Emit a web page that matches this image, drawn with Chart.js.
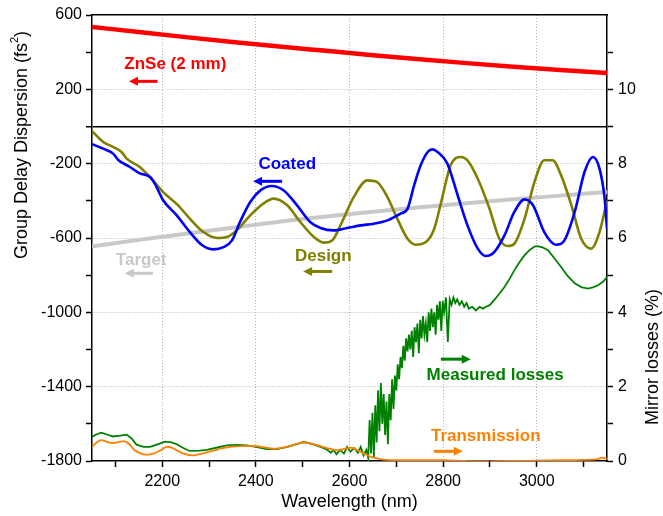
<!DOCTYPE html>
<html><head><meta charset="utf-8">
<script src="https://cdn.jsdelivr.net/npm/chart.js@4"></script>
<style>html,body{margin:0;padding:0;background:#fff}#wrap{width:663px;height:516px;position:relative}canvas{display:block}</style>
</head><body><div id="wrap"><canvas id="c" width="663" height="516" style="width:663px;height:516px"></canvas></div>
<script>
const FONT = "'Liberation Sans', Arial, sans-serif";

// ZnSe (2 mm) GDD, fs^2 (left axis)
const znseWl  = [2050,2150,2250,2350,2450,2550,2650,2750,2850,2950,3050,3150];
const znseGdd = [536,508,481,455,430,407,384,362,341,322,304,288];

// Target GDD, fs^2 (left axis)
const targetWl  = [2050,2150,2250,2350,2450,2550,2650,2750,2850,2950,3050,3150];
const targetGdd = [-645,-610,-577,-545,-512,-484,-459,-435,-413,-392,-372,-352];

// Coated mirror GDD, fs^2 (left axis)
const coatedWl  = [2050,2074,2095,2106,2131,2152,2174,2184,2202,2231,2259,2284,2309,2331,2349,2366,2388,2409,2434,2459,2488,2516,2538,2566,2595,2624,2652,2681,2709,2724,2738,2752,2767,2777,2788,2809,2831,2852,2874,2891,2909,2931,2952,2974,2992,3016,3041,3059,3081,3102,3120,3134,3145,3150];
const coatedGdd = [-95,-119,-146,-180,-218,-252,-272,-307,-397,-478,-568,-636,-661,-649,-613,-514,-406,-345,-320,-343,-424,-514,-546,-559,-546,-532,-523,-505,-469,-442,-317,-209,-137,-123,-137,-200,-370,-532,-657,-697,-676,-586,-460,-392,-424,-568,-636,-613,-460,-245,-164,-227,-388,-550];

// Design GDD, fs^2 (left axis)
const designWl  = [2050,2074,2095,2113,2124,2152,2177,2202,2234,2259,2288,2317,2338,2359,2388,2416,2438,2467,2495,2524,2545,2563,2584,2609,2638,2659,2681,2702,2724,2741,2763,2781,2795,2816,2838,2852,2874,2899,2920,2938,2952,2974,2995,3016,3034,3052,3074,3095,3116,3134,3150];
const designGdd = [-25,-83,-110,-137,-173,-218,-281,-353,-424,-496,-568,-600,-595,-559,-478,-415,-388,-424,-514,-595,-625,-613,-514,-380,-290,-299,-380,-496,-604,-636,-622,-550,-415,-209,-164,-182,-281,-442,-604,-643,-631,-496,-299,-182,-182,-263,-424,-604,-657,-568,-400];

// Measured losses, % (right axis)
const lossWl  = [2050,2060,2070,2085,2095,2110,2124,2135,2145,2160,2174,2190,2206,2220,2231,2245,2259,2280,2295,2320,2338,2360,2381,2400,2424,2445,2467,2485,2502,2520,2538,2550,2560,2566,2572,2580,2588,2595,2602,2610,2618,2624,2630,2636,2640,2643,2646,2649,2652,2655,2658,2661,2664,2667,2670,2673,2676,2679,2682,2685,2688,2691,2694,2697,2700,2703,2706,2709,2712,2715,2718,2721,2724,2727,2730,2733,2736,2739,2742,2745,2748,2751,2754,2757,2760,2763,2766,2769,2772,2775,2778,2781,2784,2787,2790,2793,2796,2799,2802,2806,2810,2814,2818,2822,2826,2830,2835,2840,2845,2850,2855,2862,2870,2878,2885,2892,2900,2909,2920,2931,2942,2952,2963,2974,2985,2995,3002,3012,3024,3038,3052,3066,3081,3095,3109,3120,3131,3142,3150];
const lossPct = [0.65,0.72,0.76,0.70,0.66,0.68,0.71,0.60,0.44,0.38,0.38,0.45,0.52,0.50,0.45,0.35,0.27,0.28,0.30,0.37,0.42,0.43,0.42,0.38,0.32,0.32,0.38,0.45,0.51,0.46,0.38,0.32,0.22,0.30,0.18,0.30,0.20,0.38,0.25,0.35,0.22,0.38,0.15,0.30,0.08,1.10,0.20,1.30,0.10,1.50,0.50,1.90,0.80,2.10,1.00,1.80,0.70,1.60,0.45,1.80,1.10,2.20,1.40,2.30,1.90,2.60,2.20,2.80,2.50,3.10,2.70,3.30,2.95,3.40,3.00,3.50,2.80,3.60,3.20,3.70,2.90,3.80,3.30,3.90,3.40,3.70,3.20,4.00,3.50,4.10,3.60,4.00,3.40,4.20,3.80,4.30,3.50,4.30,4.00,4.40,3.20,4.35,4.20,4.40,4.25,4.35,4.20,4.30,4.15,4.25,4.10,4.15,4.05,4.15,4.10,4.15,4.20,4.33,4.50,4.68,4.90,5.13,5.35,5.54,5.68,5.77,5.78,5.75,5.67,5.45,5.22,4.98,4.78,4.68,4.64,4.67,4.73,4.83,4.95];

// Transmission, % (right axis)
const transWl  = [2050,2060,2070,2085,2095,2110,2120,2130,2141,2155,2166,2180,2195,2209,2220,2231,2245,2266,2285,2309,2335,2366,2402,2438,2467,2485,2502,2520,2538,2556,2574,2590,2602,2615,2631,2645,2663,2680,2720,2800,2850,2900,2950,3000,3050,3100,3130,3140,3150];
const transPct = [0.38,0.50,0.56,0.50,0.48,0.52,0.53,0.45,0.29,0.20,0.17,0.19,0.28,0.38,0.36,0.29,0.20,0.15,0.20,0.28,0.36,0.40,0.40,0.33,0.38,0.45,0.50,0.46,0.40,0.33,0.29,0.33,0.36,0.30,0.20,0.12,0.06,0.03,0.02,0.02,0.00,-0.01,0.00,0.01,0.02,0.03,0.05,0.09,0.06];

// Axis ticks
const xTickVals = [2100,2200,2300,2400,2500,2600,2700,2800,2900,3000,3100];
const xTickLabels = [2200,2400,2600,2800,3000];
const leftTickVals = [-1800,-1600,-1400,-1200,-1000,-800,-600,-400,-200,0,200,400,600];
const leftTickLabels = [-1800,-1400,-1000,-600,-200,200,600];
const rightTickVals = [0,1,2,3,4,5,6,7,8,9,10,11];
const rightTickLabels = [0,2,4,6,8,10];

const pts = (xs, ys) => xs.map((x, i) => ({x, y: ys[i]}));

const annotations = [
  {text:'ZnSe (2 mm)', color:'#ff0000', axis:'y', x:2228, y:335, ax1:2190, ax2:2129, ay:243},
  {text:'Coated', color:'#0000ff', axis:'y', x:2467, y:-204, ax1:2456, ax2:2394, ay:-295},
  {text:'Target', color:'#c8c8c8', axis:'y', x:2155, y:-720, ax1:2180, ax2:2120, ay:-790},
  {text:'Design', color:'#808000', axis:'y', x:2544, y:-699, ax1:2563, ax2:2501, ay:-780},
  {text:'Measured losses', color:'#008000', axis:'y2', x:2911, y:2.31, ax1:2795, ax2:2859, ay:2.74},
  {text:'Transmission', color:'#ff8000', axis:'y2', x:2891, y:0.67, ax1:2780, ax2:2842, ay:0.26}
];

const annotPlugin = {
  id: 'annot',
  afterDatasetsDraw(chart) {
    const ctx = chart.ctx, xs = chart.scales.x;
    ctx.save();
    annotations.forEach(a => {
      const ys = chart.scales[a.axis];
      const tx = xs.getPixelForValue(a.x), ty = ys.getPixelForValue(a.y);
      ctx.fillStyle = a.color;
      ctx.font = 'bold 17px ' + FONT;
      ctx.textAlign = 'center';
      ctx.textBaseline = 'middle';
      ctx.fillText(a.text, tx, ty);
      const x1 = xs.getPixelForValue(a.ax1), x2 = xs.getPixelForValue(a.ax2), y = ys.getPixelForValue(a.ay);
      const dir = Math.sign(x2 - x1);
      const head = 9;
      ctx.strokeStyle = a.color;
      ctx.lineWidth = 3;
      ctx.beginPath();
      ctx.moveTo(x1, y);
      ctx.lineTo(x2 - dir * head * 0.8, y);
      ctx.stroke();
      ctx.beginPath();
      ctx.moveTo(x2, y);
      ctx.lineTo(x2 - dir * head, y - 4.5);
      ctx.lineTo(x2 - dir * head, y + 4.5);
      ctx.closePath();
      ctx.fill();
    });
    ctx.restore();
  },
  afterDraw(chart) {
    const ctx = chart.ctx;
    ctx.save();
    ctx.fillStyle = '#000';
    ctx.textBaseline = 'middle';
    ctx.font = '18px ' + FONT;
    ctx.textAlign = 'center';
    const ca = chart.chartArea;
    ctx.fillText('Wavelength (nm)', (ca.left + ca.right) / 2, 502);
    ctx.save();
    ctx.translate(22, 145);
    ctx.rotate(-Math.PI / 2);
    const main = 'Group Delay Dispersion (fs', sup = '2', end = ')';
    ctx.font = '18px ' + FONT;
    const wMain = ctx.measureText(main).width, wEnd = ctx.measureText(end).width;
    ctx.font = '11px ' + FONT;
    const wSup = ctx.measureText(sup).width;
    const total = wMain + wSup + wEnd;
    let px = -total / 2;
    ctx.textAlign = 'left';
    ctx.font = '18px ' + FONT;
    ctx.fillText(main, px, 0); px += wMain;
    ctx.font = '11px ' + FONT;
    ctx.fillText(sup, px, -7); px += wSup;
    ctx.font = '18px ' + FONT;
    ctx.fillText(end, px, 0);
    ctx.restore();
    ctx.save();
    ctx.translate(653, 357);
    ctx.rotate(-Math.PI / 2);
    ctx.textAlign = 'center';
    ctx.font = '18px ' + FONT;
    ctx.fillText('Mirror losses (%)', 0, 0);
    ctx.restore();
    ctx.restore();
  }
};

const GRID = '#b4b4b4';
const ctxEl = document.getElementById('c');
new Chart(ctxEl, {
  type: 'line',
  data: {
    datasets: [
      {label:'Coated', data: pts(coatedWl, coatedGdd), yAxisID:'y', borderColor:'#0000ff', borderWidth:2.6, cubicInterpolationMode:'monotone'},
      {label:'Design', data: pts(designWl, designGdd), yAxisID:'y', borderColor:'#808000', borderWidth:2.6, cubicInterpolationMode:'monotone'},
      {label:'Target', data: pts(targetWl, targetGdd), yAxisID:'y', borderColor:'#c8c8c8', borderWidth:4, cubicInterpolationMode:'monotone'},
      {label:'Transmission', data: pts(transWl, transPct), yAxisID:'y2', borderColor:'#ff8000', borderWidth:1.8, tension:0.3},
      {label:'Measured losses', data: pts(lossWl, lossPct), yAxisID:'y2', borderColor:'#008000', borderWidth:1.8, tension:0},
      {label:'ZnSe (2 mm)', data: pts(znseWl, znseGdd), yAxisID:'y', borderColor:'#ff0000', borderWidth:4.5, cubicInterpolationMode:'monotone'}
    ]
  },
  options: {
    responsive: false,
    animation: false,
    devicePixelRatio: 1,
    layout: {padding: 0},
    elements: {point: {radius: 0}, line: {fill: false}},
    plugins: {legend: {display: false}, tooltip: {enabled: false}},
    scales: {
      x: {
        type: 'linear', position: 'bottom', min: 2050, max: 3150,
        afterBuildTicks: s => { s.ticks = xTickVals.map(v => ({value: v})); },
        afterFit: s => { s.height = 55; },
        ticks: {
          autoSkip: false, maxRotation: 0, padding: 5, color: '#000',
          font: {family: FONT, size: 16},
          callback: v => xTickLabels.includes(v) ? String(v) : ''
        },
        grid: {
          tickLength: 6, tickWidth: 1.5, tickColor: '#000', lineWidth: 1,
          color: c => (c.tick && xTickLabels.includes(c.tick.value)) ? GRID : 'rgba(0,0,0,0)'
        },
        border: {display: true, color: '#000', width: 1.5, dash: [1, 2]}
      },
      xTop: {
        type: 'linear', position: 'top', min: 2050, max: 3150,
        afterFit: s => { s.height = 15; },
        ticks: {display: false},
        grid: {display: false, drawTicks: false},
        border: {display: true, color: '#000', width: 1.5}
      },
      y: {
        type: 'linear', position: 'left', min: -1800, max: 600,
        afterBuildTicks: s => { s.ticks = leftTickVals.map(v => ({value: v})); },
        afterFit: s => { s.width = 92; },
        ticks: {
          autoSkip: false, padding: 4, color: '#000',
          font: {family: FONT, size: 16},
          callback: v => leftTickLabels.includes(v) ? String(v) : ''
        },
        grid: {
          tickLength: 6, tickWidth: 1.5, tickColor: '#000',
          lineWidth: c => (c.tick && c.tick.value === 0) ? 1.5 : 1,
          color: c => {
            if (!c.tick) return 'rgba(0,0,0,0)';
            const v = c.tick.value;
            if (v === 0) return '#000';
            if (v === -1800 || v === 600) return 'rgba(0,0,0,0)';
            return leftTickLabels.includes(v) ? GRID : 'rgba(0,0,0,0)';
          }
        },
        border: {display: true, color: '#000', width: 1.5,
          dash: c => (c.tick && c.tick.value === 0) ? [] : [1, 2]}
      },
      y2: {
        type: 'linear', position: 'right', min: 0, max: 12,
        afterBuildTicks: s => { s.ticks = rightTickVals.map(v => ({value: v})); },
        afterFit: s => { s.width = 56; },
        ticks: {
          autoSkip: false, padding: 5, color: '#000',
          font: {family: FONT, size: 16},
          callback: v => rightTickLabels.includes(v) ? String(v) : ''
        },
        grid: {tickLength: 6, tickWidth: 1.5, tickColor: '#000', drawOnChartArea: false},
        border: {display: true, color: '#000', width: 1.5}
      }
    }
  },
  plugins: [annotPlugin]
});
</script>
</body></html>
